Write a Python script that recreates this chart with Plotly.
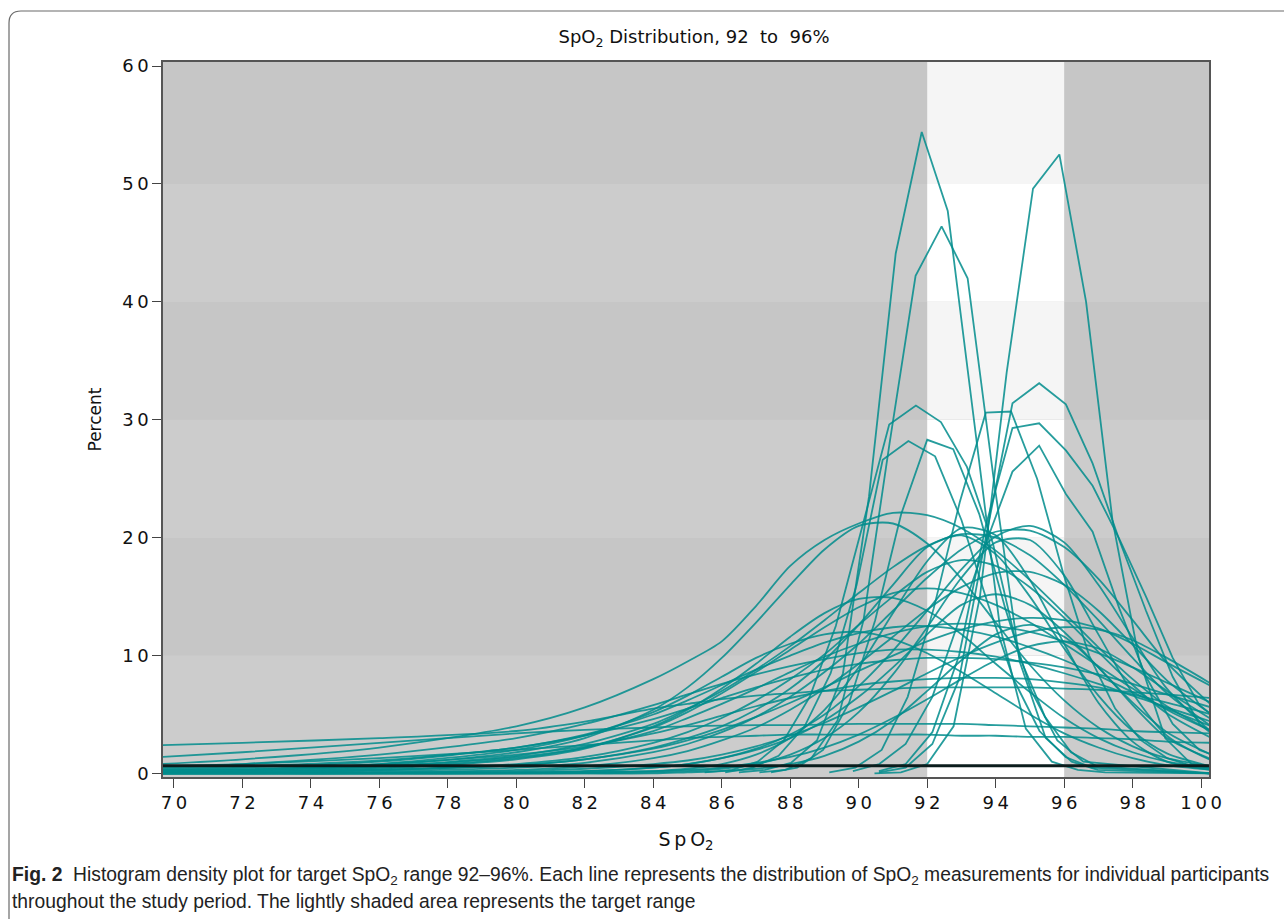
import plotly.graph_objects as go

# ---------------- data ----------------
title_text = "SpO<sub>2</sub> Distribution, 92\u00a0 to\u00a0 96%"
x_ticks = [70, 72, 74, 76, 78, 80, 82, 84, 86, 88, 90, 92, 94, 96, 98, 100]
y_ticks = [0, 10, 20, 30, 40, 50, 60]
target_range = [92, 96]

# common SpO2 grid for the broad (smooth) participant curves
grid_x = [69.6, 72, 76, 80, 82, 84, 85, 86, 87, 88, 89, 90, 91, 92, 93, 94, 95, 96, 97, 98, 99, 100.3]

broad_01 = [2.4, 2.6, 3.0, 3.6, 4.4, 5.5, 5.9, 6.3, 6.6, 6.8, 7.0, 7.1, 7.2, 7.3, 7.3, 7.3, 7.3, 7.2, 7.1, 6.9, 6.7, 6.4]
broad_02 = [1.4, 1.8, 2.6, 3.4, 3.7, 3.9, 4.0, 4.05, 4.1, 4.1, 4.15, 4.2, 4.2, 4.2, 4.2, 4.1, 4.0, 3.9, 3.8, 3.6, 3.5, 3.4]
broad_03 = [0.6, 0.8, 1.3, 2.0, 2.4, 2.8, 3.0, 3.1, 3.2, 3.3, 3.3, 3.3, 3.3, 3.3, 3.2, 3.2, 3.1, 3.1, 3.0, 2.9, 2.7, 2.6]
broad_04 = [0.4, 0.6, 1.1, 2.2, 3.2, 4.6, 5.5, 6.4, 7.3, 8.1, 8.8, 9.3, 9.6, 9.8, 9.8, 9.7, 9.4, 9.0, 8.4, 7.6, 6.7, 5.6]
broad_05 = [0.3, 0.4, 0.8, 1.6, 2.3, 3.4, 4.1, 4.9, 5.7, 6.4, 7.0, 7.5, 7.8, 8.0, 8.1, 8.1, 8.0, 7.7, 7.3, 6.7, 6.0, 5.0]
broad_06 = [0.2, 0.3, 0.6, 1.4, 2.2, 3.6, 4.7, 5.9, 7.2, 8.6, 9.9, 11.0, 11.9, 12.5, 12.7, 12.5, 12.0, 11.2, 10.2, 9.0, 7.7, 6.0]
broad_07 = [0.1, 0.1, 0.3, 0.7, 1.2, 2.1, 2.8, 3.7, 4.8, 6.0, 7.3, 8.7, 10.0, 11.2, 12.2, 12.9, 13.2, 13.0, 12.3, 11.0, 9.4, 7.4]
broad_08 = [0.1, 0.2, 0.5, 1.3, 2.2, 3.9, 5.2, 6.8, 8.6, 10.5, 12.4, 14.1, 15.3, 15.7, 15.3, 14.3, 12.8, 11.0, 9.1, 7.2, 5.4, 3.6]
broad_09 = [0.3, 0.5, 1.0, 2.2, 3.3, 5.0, 6.2, 7.5, 8.8, 10.0, 11.1, 11.9, 12.4, 12.5, 12.2, 11.6, 10.7, 9.6, 8.3, 6.9, 5.5, 4.0]
broad_10 = [0.2, 0.3, 0.6, 1.5, 2.5, 4.2, 5.5, 7.0, 8.8, 10.8, 13.0, 15.3, 17.5, 19.3, 20.3, 20.0, 18.5, 16.0, 13.0, 9.8, 6.8, 4.0]
broad_11 = [0.8, 1.2, 2.2, 4.0, 5.6, 8.0, 9.5, 11.2, 14.2, 17.6, 19.8, 21.2, 22.1, 21.9, 20.8, 18.9, 16.4, 13.6, 10.7, 8.0, 5.7, 3.6]
broad_12 = [0.2, 0.3, 0.7, 1.8, 3.0, 5.4, 7.3, 9.8, 12.8, 16.0, 19.0, 21.0, 21.2, 19.5, 16.5, 12.8, 9.2, 6.2, 3.9, 2.3, 1.3, 0.6]
broad_13 = [0.0, 0.1, 0.2, 0.5, 0.9, 1.8, 2.5, 3.5, 4.8, 6.5, 8.6, 11.0, 13.8, 16.6, 19.0, 20.5, 20.6, 19.2, 16.5, 13.0, 9.4, 5.8]
broad_14 = [0.0, 0.0, 0.0, 0.1, 0.2, 0.5, 0.8, 1.3, 2.1, 3.3, 5.0, 7.4, 10.4, 13.8, 17.3, 20.1, 21.0, 19.6, 16.0, 11.5, 7.2, 3.5]
broad_15 = [0.1, 0.1, 0.3, 0.8, 1.4, 2.6, 3.5, 4.7, 6.2, 8.0, 10.1, 12.6, 15.0, 17.1, 18.1, 17.6, 15.8, 13.2, 10.3, 7.5, 5.1, 3.0]
broad_16 = [0.0, 0.0, 0.1, 0.3, 0.6, 1.3, 1.9, 2.8, 3.9, 5.4, 7.2, 9.3, 11.6, 13.9, 15.8, 17.0, 17.1, 16.0, 13.8, 10.9, 7.9, 5.0]
broad_17 = [0.0, 0.0, 0.1, 0.2, 0.4, 0.8, 1.1, 1.6, 2.3, 3.2, 4.3, 5.6, 7.0, 8.5, 9.9, 11.1, 12.0, 12.4, 12.2, 11.3, 9.8, 7.6]
broad_18 = [0.1, 0.2, 0.4, 1.2, 2.1, 4.0, 5.4, 7.2, 9.3, 11.6, 13.6, 14.8, 14.9, 13.8, 11.8, 9.3, 6.9, 4.7, 3.0, 1.8, 1.0, 0.5]
broad_19 = [0.5, 0.8, 1.6, 3.0, 4.2, 5.8, 6.7, 7.6, 8.4, 9.1, 9.7, 10.2, 10.5, 10.5, 10.3, 9.9, 9.3, 8.5, 7.6, 6.6, 5.6, 4.4]
broad_20 = [0.0, 0.0, 0.0, 0.0, 0.1, 0.2, 0.4, 0.8, 1.6, 3.0, 5.4, 9.0, 13.6, 18.0, 20.8, 20.2, 16.4, 11.0, 6.0, 2.7, 1.0, 0.3]
broad_21 = [0.0, 0.0, 0.0, 0.0, 0.0, 0.1, 0.2, 0.4, 0.8, 1.6, 3.0, 5.2, 8.4, 12.4, 16.6, 19.6, 19.8, 16.8, 11.8, 6.8, 3.2, 1.1]
broad_22 = [0.1, 0.1, 0.3, 0.7, 1.2, 2.2, 3.0, 4.0, 5.4, 7.2, 9.6, 12.6, 16.0, 19.2, 20.2, 18.6, 15.0, 10.6, 6.6, 3.6, 1.7, 0.6]
broad_23 = [0.0, 0.0, 0.0, 0.1, 0.2, 0.5, 0.8, 1.3, 2.0, 3.0, 4.5, 6.5, 9.0, 11.8, 14.3, 15.2, 14.3, 12.0, 9.0, 6.0, 3.5, 1.6]
broad_24 = [0.0, 0.0, 0.0, 0.0, 0.1, 0.2, 0.3, 0.5, 0.9, 1.4, 2.2, 3.3, 4.7, 6.3, 8.0, 9.6, 10.8, 11.2, 10.6, 9.0, 7.0, 4.6]
broad_25 = [0.2, 0.3, 0.8, 2.0, 3.2, 5.2, 6.6, 8.2, 9.8, 11.0, 11.8, 12.0, 11.4, 10.2, 8.6, 6.8, 5.0, 3.4, 2.2, 1.3, 0.7, 0.3]
broad_26 = [0.0, 0.0, 0.0, 0.0, 0.0, 0.0, 0.1, 0.2, 0.4, 0.8, 1.5, 2.7, 4.5, 7.0, 9.6, 11.8, 12.6, 11.6, 9.0, 5.8, 3.0, 1.2]

# narrow participant curves (own histogram bin grids)
sharp_01_x = [86.5, 87.26, 88.02, 88.78, 89.54, 90.3, 91.08, 91.84, 92.6, 93.36, 94.12, 94.88, 95.64, 96.4, 97.2, 100.3]
sharp_01_y = [0.1, 0.3, 0.9, 2.8, 8.5, 23.5, 44.1, 54.4, 47.7, 30.0, 12.5, 3.8, 1.0, 0.3, 0.1, 0.0]
sharp_02_x = [87.1, 87.86, 88.62, 89.38, 90.14, 90.9, 91.66, 92.42, 93.18, 93.94, 94.7, 95.46, 96.22, 96.98, 100.3]
sharp_02_y = [0.1, 0.3, 1.3, 4.5, 13.0, 28.0, 42.2, 46.4, 42.0, 25.0, 9.5, 3.0, 1.0, 0.3, 0.0]
sharp_03_x = [90.46, 91.23, 92.0, 92.77, 93.54, 94.32, 95.09, 95.86, 96.64, 97.41, 98.18, 98.95, 99.72, 100.3]
sharp_03_y = [0.0, 0.1, 0.8, 4.0, 15.0, 34.0, 49.6, 52.5, 40.0, 21.5, 9.8, 3.0, 0.8, 0.4]
sharp_04_x = [90.59, 91.37, 92.15, 92.93, 93.71, 94.49, 95.27, 96.05, 96.83, 97.61, 98.39, 99.17, 99.95, 100.3]
sharp_04_y = [0.1, 0.5, 2.5, 8.0, 20.0, 31.4, 33.1, 31.3, 26.3, 19.8, 13.8, 8.2, 4.2, 3.4]
sharp_05_x = [89.14, 89.9, 90.67, 91.43, 92.19, 92.95, 93.71, 94.45, 95.21, 95.97, 96.73, 97.49, 98.25, 99.01, 99.77, 100.3]
sharp_05_y = [0.1, 0.5, 2.0, 6.5, 14.0, 23.0, 30.6, 30.7, 25.0, 17.0, 10.0, 5.5, 2.8, 1.3, 0.6, 0.4]
sharp_06_x = [90.59, 91.37, 92.15, 92.93, 93.71, 94.49, 95.27, 96.05, 96.83, 97.61, 98.39, 99.17, 99.95, 100.3]
sharp_06_y = [0.2, 0.8, 3.5, 10.0, 21.0, 29.3, 29.7, 27.4, 24.4, 19.9, 15.0, 9.8, 5.8, 5.0]
sharp_07_x = [89.83, 90.6, 91.37, 92.15, 92.93, 93.71, 94.49, 95.27, 96.05, 96.83, 97.61, 98.39, 99.17, 99.95, 100.3]
sharp_07_y = [0.2, 0.8, 2.5, 6.5, 13.0, 19.5, 25.6, 27.8, 23.7, 20.5, 14.0, 8.2, 4.2, 2.0, 1.6]
sharp_08_x = [85.5, 86.3, 87.05, 87.81, 88.57, 89.33, 90.11, 90.89, 91.67, 92.4, 93.16, 93.92, 94.68, 95.44, 96.2, 96.96, 100.3]
sharp_08_y = [0.1, 0.3, 1.0, 2.8, 6.5, 12.5, 21.0, 29.6, 31.2, 29.8, 26.0, 19.5, 10.0, 4.8, 1.8, 0.6, 0.0]
sharp_09_x = [86.1, 86.9, 87.66, 88.42, 89.18, 89.94, 90.7, 91.45, 92.23, 93.0, 93.76, 94.52, 95.28, 96.04, 96.8, 100.3]
sharp_09_y = [0.1, 0.5, 1.5, 4.0, 8.5, 16.0, 26.6, 28.2, 26.9, 21.5, 14.5, 8.0, 3.6, 1.4, 0.5, 0.0]
sharp_10_x = [87.44, 88.2, 88.96, 89.72, 90.48, 91.24, 92.0, 92.76, 93.52, 94.28, 95.04, 95.8, 96.56, 100.3]
sharp_10_y = [0.1, 0.5, 2.0, 6.0, 13.0, 22.0, 28.3, 27.5, 22.0, 14.0, 7.0, 2.8, 1.0, 0.0]

# the single flat (uniform-looking) dark curve
flat_x = [69.6, 100.3]
flat_y = [0.65, 0.65]

broad_curves = [broad_01, broad_02, broad_03, broad_04, broad_05, broad_06, broad_07, broad_08,
                broad_09, broad_10, broad_11, broad_12, broad_13, broad_14, broad_15, broad_16,
                broad_17, broad_18, broad_19, broad_20, broad_21, broad_22, broad_23, broad_24,
                broad_25, broad_26]
sharp_curves = [(sharp_01_x, sharp_01_y), (sharp_02_x, sharp_02_y), (sharp_03_x, sharp_03_y),
                (sharp_04_x, sharp_04_y), (sharp_05_x, sharp_05_y), (sharp_06_x, sharp_06_y),
                (sharp_07_x, sharp_07_y), (sharp_08_x, sharp_08_y), (sharp_09_x, sharp_09_y),
                (sharp_10_x, sharp_10_y)]

# ---------------- styling ----------------
W, H = 1284, 919
L, R, T, B = 163, 75, 62, 142
XR = [69.68, 100.23]
YR = [-0.3, 60.34]
LINE_COLOR = "rgba(0,140,140,0.85)"
FONT = "DejaVu Sans, Verdana, sans-serif"
CAP_FONT = "Liberation Sans, Arial, sans-serif"
THIN = "\u2009"

def spaced(v):
    return THIN.join(str(v))

fig = go.Figure()

for ys in broad_curves:
    fig.add_trace(go.Scatter(x=grid_x, y=ys, mode="lines",
                             line=dict(color=LINE_COLOR, width=1.8, shape="spline", smoothing=0.8),
                             hoverinfo="skip", showlegend=False))
for xs, ys in sharp_curves:
    fig.add_trace(go.Scatter(x=xs, y=ys, mode="lines",
                             line=dict(color=LINE_COLOR, width=1.8),
                             hoverinfo="skip", showlegend=False))
fig.add_trace(go.Scatter(x=flat_x, y=flat_y, mode="lines",
                         line=dict(color="#0b1c1c", width=3),
                         hoverinfo="skip", showlegend=False))

# background bands (alternating every 10%), target range lighter
shapes = []
band_edges = [YR[0], 10, 20, 30, 40, 50, YR[1]]
for i in range(6):
    light = (i % 2 == 0)
    out_col = "#cccccc" if light else "#c6c6c6"
    in_col = "#ffffff" if light else "#f5f5f5"
    y0, y1 = band_edges[i], band_edges[i + 1]
    shapes.append(dict(type="rect", xref="x", yref="y", x0=XR[0], x1=XR[1], y0=y0, y1=y1,
                       fillcolor=out_col, line=dict(width=0), layer="below"))
    shapes.append(dict(type="rect", xref="x", yref="y", x0=target_range[0], x1=target_range[1],
                       y0=y0, y1=y1, fillcolor=in_col, line=dict(width=0), layer="below"))

# rounded figure border (paper coords from pixel positions)
pw, ph = W - L - R, H - T - B
def px(xp):
    return (xp - L) / pw
def py(yp):
    return (H - B - yp) / ph
r = 12
path = (f"M {px(9)} {py(930)} L {px(9)} {py(11 + r)} "
        f"Q {px(9)} {py(11)} {px(9 + r)} {py(11)} L {px(1300)} {py(11)}")
shapes.append(dict(type="path", xref="paper", yref="paper", path=path,
                   line=dict(color="#6a6a6a", width=1.2), layer="above"))

annotations = [
    dict(text="<b>Fig. 2</b>  Histogram density plot for target SpO<sub>2</sub> range 92–96%. "
              "Each line represents the distribution of SpO<sub>2</sub> measurements for individual participants",
         xref="paper", yref="paper", x=px(10), y=py(876), xanchor="left", yanchor="middle",
         showarrow=False, font=dict(family=CAP_FONT, size=19.3, color="#222222")),
    dict(text="throughout the study period. The lightly shaded area represents the target range",
         xref="paper", yref="paper", x=px(10), y=py(901), xanchor="left", yanchor="middle",
         showarrow=False, font=dict(family=CAP_FONT, size=19.3, color="#222222")),
]

fig.update_layout(
    width=W, height=H,
    margin=dict(l=L, r=R, t=T, b=B, pad=0),
    paper_bgcolor="white", plot_bgcolor="#cccccc",
    title=dict(text=title_text, xref="container", x=694 / W, xanchor="center",
               yref="container", y=1 - 37 / H, yanchor="middle",
               font=dict(family=FONT, size=18, color="#111111")),
    shapes=shapes, annotations=annotations,
    xaxis=dict(range=XR, tickvals=x_ticks, ticktext=[spaced(v) for v in x_ticks],
               ticks="outside", ticklen=9, tickwidth=1.2, tickcolor="#444444",
               showline=True, linecolor="#555555", linewidth=1.5, mirror=True,
               showgrid=False, zeroline=False,
               tickfont=dict(family=FONT, size=18, color="#111111"),
               title=dict(text="S\u2009p\u2009O<sub>2</sub>", standoff=20,
                          font=dict(family=FONT, size=19, color="#111111"))),
    yaxis=dict(range=YR, tickvals=y_ticks, ticktext=[spaced(v) for v in y_ticks],
               ticks="outside", ticklen=9, tickwidth=1.2, tickcolor="#444444",
               showline=True, linecolor="#555555", linewidth=1.5, mirror=True,
               showgrid=False, zeroline=False,
               tickfont=dict(family=FONT, size=18, color="#111111"),
               title=dict(text="Percent", standoff=16,
                          font=dict(family=FONT, size=17, color="#111111"))),
)

fig.write_html("out.html", config={"displayModeBar": False},
               post_script="document.body.style.margin='0';document.body.style.overflow='hidden';")
